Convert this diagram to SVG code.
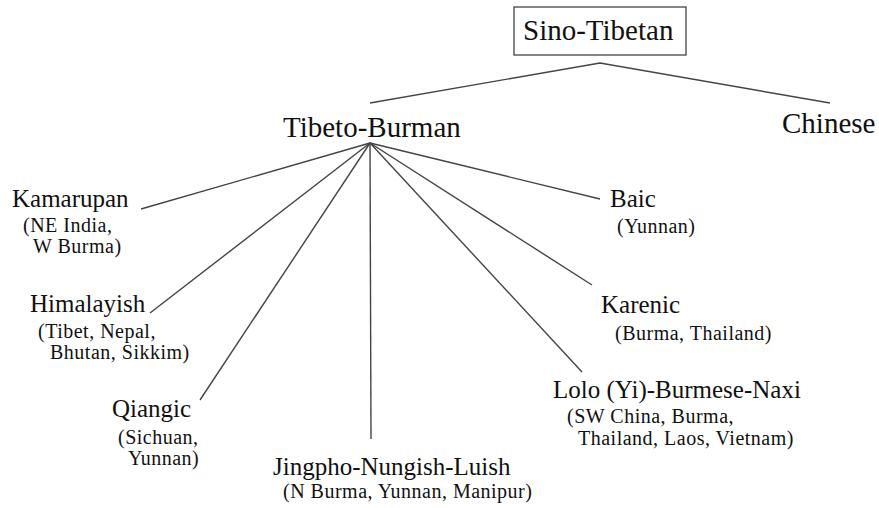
<svg xmlns="http://www.w3.org/2000/svg" width="879" height="508" viewBox="0 0 879 508" font-family="'Liberation Serif', Tinos, 'DejaVu Serif', 'Times New Roman', serif">
<style>
text{font-family:'Liberation Serif',Tinos,'DejaVu Serif','Times New Roman',serif;fill:#111}
.top{font-size:29px}
.main{font-size:25px}
.sub{font-size:20px;letter-spacing:0.5px}
.edge{stroke:#444;stroke-width:1.4;fill:none}
</style>
<rect width="879" height="508" fill="#fff"/>
<g id="connectors">
<polyline class="edge" points="370,103 600,63 830,103"/>
<line class="edge" x1="370" y1="143" x2="141" y2="209"/>
<line class="edge" x1="370" y1="143" x2="150" y2="313"/>
<line class="edge" x1="370" y1="143" x2="200" y2="400"/>
<line class="edge" x1="370" y1="143" x2="371" y2="439"/>
<line class="edge" x1="370" y1="143" x2="582" y2="372"/>
<line class="edge" x1="370" y1="143" x2="592" y2="285"/>
<line class="edge" x1="370" y1="143" x2="600" y2="199"/>
</g>
<g id="sino-tibetan">
<rect x="514" y="7" width="172" height="48" fill="none" stroke="#444" stroke-width="1.3"/>
<text class="top" x="523" y="40">Sino-Tibetan</text>
</g>
<g id="tibeto-burman"><text class="top" x="283" y="137">Tibeto-Burman</text></g>
<g id="chinese"><text class="top" x="782" y="133">Chinese</text></g>
<g id="kamarupan">
<text class="main" x="12" y="207">Kamarupan</text>
<text class="sub" x="23" y="232">(NE India,</text>
<text class="sub" x="33" y="253">W Burma)</text>
</g>
<g id="himalayish">
<text class="main" x="30" y="312">Himalayish</text>
<text class="sub" x="38" y="338">(Tibet, Nepal,</text>
<text class="sub" x="50" y="359">Bhutan, Sikkim)</text>
</g>
<g id="qiangic">
<text class="main" x="112" y="417">Qiangic</text>
<text class="sub" x="118" y="444">(Sichuan,</text>
<text class="sub" x="128" y="465">Yunnan)</text>
</g>
<g id="jingpho">
<text class="main" x="273" y="475">Jingpho-Nungish-Luish</text>
<text class="sub" x="283" y="498">(N Burma, Yunnan, Manipur)</text>
</g>
<g id="baic">
<text class="main" x="610" y="207">Baic</text>
<text class="sub" x="617" y="233">(Yunnan)</text>
</g>
<g id="karenic">
<text class="main" x="601" y="313">Karenic</text>
<text class="sub" x="615" y="340">(Burma, Thailand)</text>
</g>
<g id="lolo">
<text class="main" x="553" y="398">Lolo (Yi)-Burmese-Naxi</text>
<text class="sub" x="567" y="423">(SW China, Burma,</text>
<text class="sub" x="578" y="445">Thailand, Laos, Vietnam)</text>
</g>
</svg>
